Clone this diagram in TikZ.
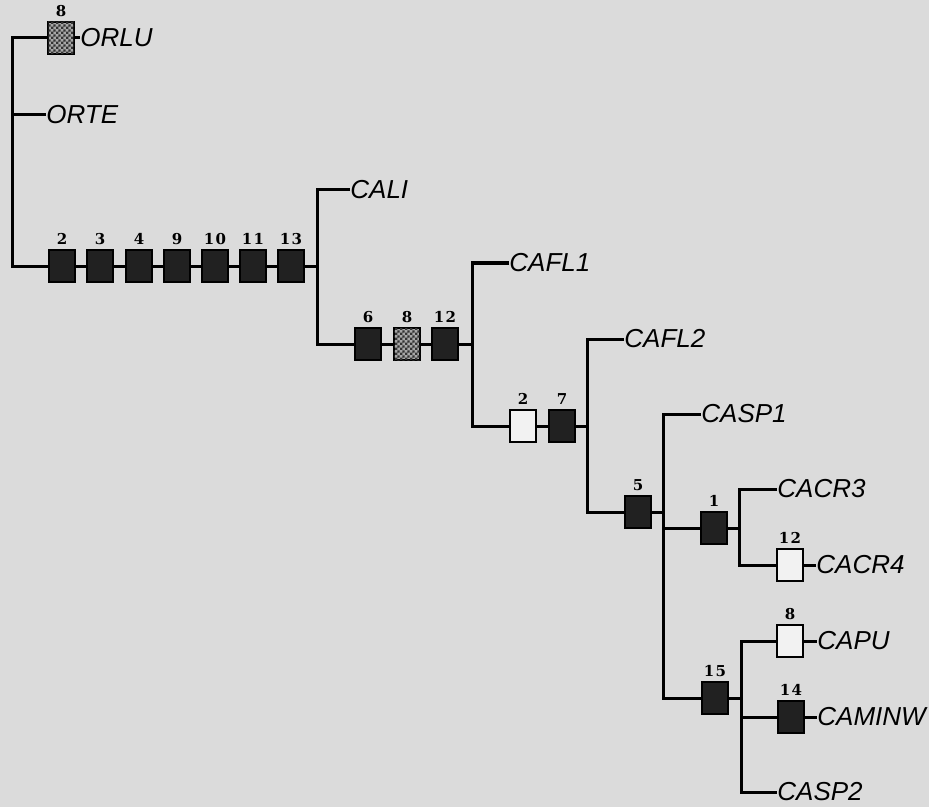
\documentclass[tikz,border=0pt]{standalone}
\usepackage{fontspec}
\setmainfont{Liberation Sans}
\newfontfamily\numfont[LetterSpace=8]{DejaVu Serif}
\usetikzlibrary{patterns}
\definecolor{paper}{RGB}{219,219,219}
\pgfdeclarepatternformonly{finecheck}{\pgfpointorigin}{\pgfpoint{2.6pt}{2.6pt}}{\pgfpoint{2.6pt}{2.6pt}}{%
  \pgfpathrectangle{\pgfpointorigin}{\pgfpoint{1.3pt}{1.3pt}}%
  \pgfpathrectangle{\pgfpoint{1.3pt}{1.3pt}}{\pgfpoint{1.3pt}{1.3pt}}%
  \pgfusepath{fill}}
\tikzset{
  branch/.style={line width=1.5pt},
  charbox/.style={draw, line width=1.1pt, minimum width=13pt, minimum height=16pt, inner sep=0pt},
  syn/.style={charbox, fill=black!87},
  hom/.style={charbox, fill=black!35, postaction={pattern=finecheck, pattern color=black!80}},
  rev/.style={charbox, fill=black!5},
  num/.style={font=\numfont\bfseries\fontsize{7.5}{7.5}\selectfont, inner sep=0pt, label distance=2pt},
  chr/.style={label={[num]above:#1}},
  taxon/.style={anchor=west, inner sep=0pt, font=\fontsize{13}{13}\selectfont\itshape}
}
\begin{document}
\begin{tikzpicture}[x=0.5pt,y=-0.5pt]
  \fill[paper] (0,0) rectangle (929,807);
  \useasboundingbox (0,0) rectangle (929,807);

  % outgroups
  \node[hom,chr=8] (o8) at (61,38) {};
  \node[taxon] (orlu) at (80,38) {ORLU};
  \node[taxon] (orte) at (46,115) {ORTE};
  \coordinate (n0) at (12,115);

  % main stem
  \node[syn,chr=2] (m2) at (62,266) {};
  \node[syn,chr=3] (m3) at (100,266) {};
  \node[syn,chr=4] (m4) at (139,266) {};
  \node[syn,chr=9] (m9) at (177,266) {};
  \node[syn,chr=10] (m10) at (215,266) {};
  \node[syn,chr=11] (m11) at (253,266) {};
  \node[syn,chr=13] (m13) at (291,266) {};
  \coordinate (n2) at (317,266);
  \node[taxon] (cali) at (350,190) {CALI};

  \node[syn,chr=6] (b6) at (368,344) {};
  \node[hom,chr=8] (b8) at (407,344) {};
  \node[syn,chr=12] (b12) at (445,344) {};
  \coordinate (n3) at (472,344);
  \node[taxon] (cafl1) at (509,263) {CAFL1};

  \node[rev,chr=2] (d2) at (523,426) {};
  \node[syn,chr=7] (d7) at (562,426) {};
  \coordinate (n4) at (587,426);
  \node[taxon] (cafl2) at (624,339) {CAFL2};

  \node[syn,chr=5] (e5) at (638,512) {};
  \coordinate (n5) at (663,512);
  \node[taxon] (casp1) at (701,414) {CASP1};

  \node[syn,chr=1] (f1) at (714,528) {};
  \coordinate (n6) at (739,528);
  \node[taxon] (cacr3) at (777,489) {CACR3};
  \node[rev,chr=12] (g12) at (790,565) {};
  \node[taxon] (cacr4) at (816,565) {CACR4};

  \node[syn,chr=15] (h15) at (715,698) {};
  \coordinate (n7) at (741,698);
  \node[rev,chr=8] (i8) at (790,641) {};
  \node[taxon] (capu) at (817,641) {CAPU};
  \node[syn,chr=14] (j14) at (791,717) {};
  \node[taxon] (caminw) at (817,717) {CAMINW};
  \node[taxon] (casp2) at (777,792) {CASP2};

  % branches
  \draw[branch] (o8) -| (n0) |- (m2);
  \draw[branch] (o8) -- (orlu.west);
  \draw[branch] (n0) -- (orte.west);
  \foreach \a/\b in {m2/m3,m3/m4,m4/m9,m9/m10,m10/m11,m11/m13,b6/b8,b8/b12,d2/d7}
    \draw[branch] (\a) -- (\b);
  \draw[branch] (m13) -- (n2);
  \draw[branch] (cali.west) -| (n2) |- (b6);
  \draw[branch] (b12) -- (n3);
  \draw[branch] (cafl1.west) -| (n3) |- (d2);
  \draw[branch] (d7) -- (n4);
  \draw[branch] (cafl2.west) -| (n4) |- (e5);
  \draw[branch] (e5) -- (n5);
  \draw[branch] (casp1.west) -| (n5) |- (h15);
  \draw[branch] (f1) -- (f1 -| n5);
  \draw[branch] (f1) -- (n6);
  \draw[branch] (cacr3.west) -| (n6) |- (g12);
  \draw[branch] (g12) -- (cacr4.west);
  \draw[branch] (h15) -- (n7);
  \draw[branch] (i8) -| (n7) |- (casp2.west);
  \draw[branch] (j14) -- (j14 -| n7);
  \draw[branch] (i8) -- (capu.west);
  \draw[branch] (j14) -- (caminw.west);
\end{tikzpicture}
\end{document}
